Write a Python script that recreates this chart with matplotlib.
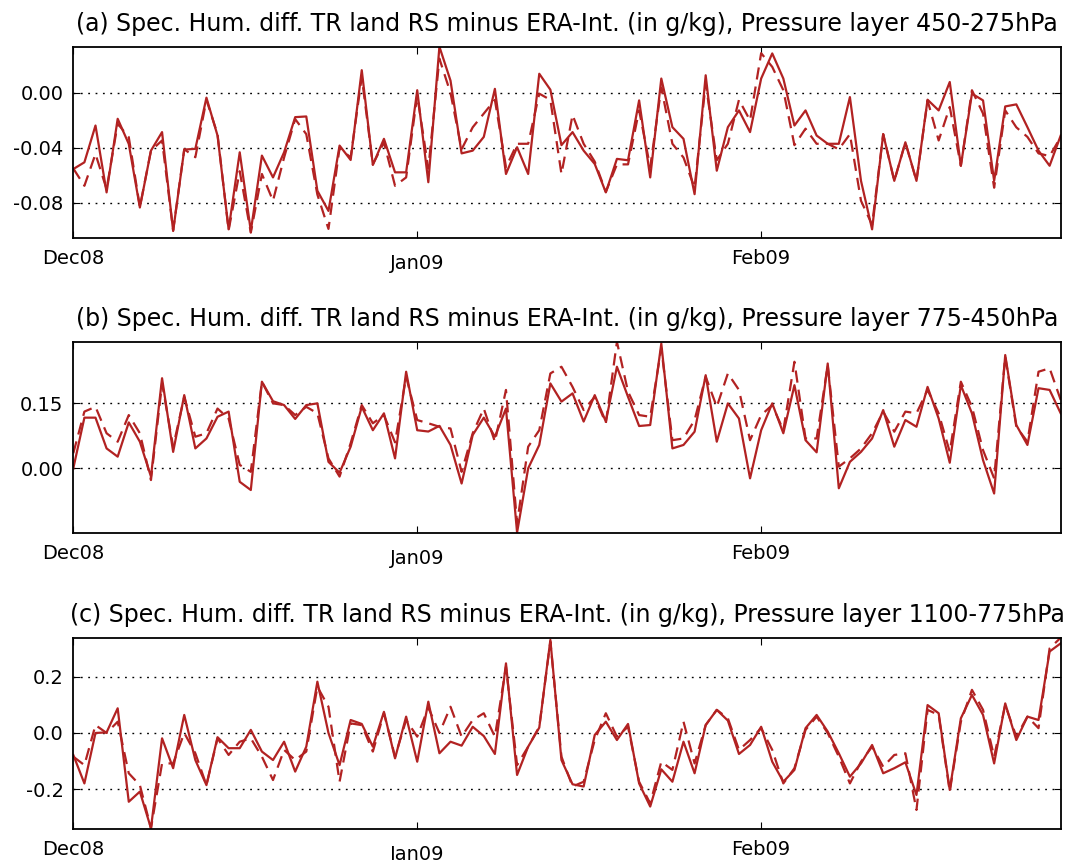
import numpy as np
import pandas as pd
import matplotlib
matplotlib.use("Agg")
import matplotlib.pyplot as plt
import matplotlib.dates as mdates
from matplotlib.ticker import FormatStrFormatter, FixedLocator

# Daily series, 1 Dec 2008 - 28 Feb 2009
dates = pd.date_range("2008-12-01", periods=90, freq="D")

# (a) 450-275 hPa
a_solid = [-0.0554, -0.0505, -0.0237, -0.0724, -0.0188, -0.0371, -0.0834, -0.0420, -0.0285, -0.1005,
           -0.0412, -0.0407, -0.0034, -0.0310, -0.0993, -0.0432, -0.1005, -0.0456, -0.0615, -0.0432,
           -0.0176, -0.0171, -0.0712, -0.0859, -0.0383, -0.0488, 0.0166, -0.0524, -0.0334, -0.0578,
           -0.0578, 0.0020, -0.0650, 0.0337, 0.0090, -0.0440, -0.0420, -0.0320, 0.0030, -0.0590,
           -0.0395, -0.0590, 0.0140, 0.0024, -0.0380, -0.0285, -0.0420, -0.0517, -0.0724, -0.0480,
           -0.0490, -0.0054, -0.0615, 0.0105, -0.0249, -0.0334, -0.0737, 0.0129, -0.0566, -0.0249,
           -0.0127, -0.0285, 0.0105, 0.0288, 0.0105, -0.0237, -0.0127, -0.0310, -0.0370, -0.0370,
           -0.0030, -0.0640, -0.0993, -0.0300, -0.0640, -0.0359, -0.0640, -0.0049, -0.0127, 0.0080,
           -0.0530, -0.0005, -0.0054, -0.0640, -0.0098, -0.0083, -0.0249, -0.0420, -0.0530, -0.0310]
a_dashed = [-0.0550, -0.0676, -0.0444, -0.0700, -0.0224, -0.0322, -0.0830, -0.0420, -0.0346, -0.1000,
            -0.0410, -0.0468, -0.0050, -0.0300, -0.1000, -0.0570, -0.1017, -0.0590, -0.0785, -0.0470,
            -0.0190, -0.0300, -0.0740, -0.0990, -0.0400, -0.0470, 0.0117, -0.0520, -0.0360, -0.0676,
            -0.0615, -0.0017, -0.0550, 0.0250, 0.0000, -0.0410, -0.0250, -0.0150, -0.0050, -0.0540,
            -0.0370, -0.0370, -0.0005, -0.0050, -0.0590, -0.0160, -0.0370, -0.0500, -0.0720, -0.0520,
            -0.0520, -0.0127, -0.0540, 0.0040, -0.0370, -0.0470, -0.0690, 0.0070, -0.0490, -0.0370,
            -0.0050, -0.0200, 0.0290, 0.0190, 0.0020, -0.0380, -0.0260, -0.0370, -0.0370, -0.0410,
            -0.0300, -0.0785, -0.0960, -0.0300, -0.0640, -0.0360, -0.0640, -0.0054, -0.0346, -0.0102,
            -0.0530, 0.0020, -0.0150, -0.0690, -0.0127, -0.0250, -0.0320, -0.0440, -0.0460, -0.0320]

# (b) 775-450 hPa
b_solid = [0.000, 0.117, 0.117, 0.046, 0.027, 0.106, 0.0615, -0.019, 0.208, 0.038,
           0.169, 0.046, 0.069, 0.119, 0.131, -0.031, -0.050, 0.200, 0.155, 0.146,
           0.114, 0.146, 0.150, 0.015, -0.010, 0.050, 0.142, 0.088, 0.127, 0.023,
           0.223, 0.088, 0.085, 0.098, 0.054, -0.035, 0.077, 0.117, 0.073, 0.138,
           -0.148, 0.000, 0.054, 0.196, 0.154, 0.173, 0.108, 0.169, 0.108, 0.2345,
           0.165, 0.0977, 0.100, 0.288, 0.046, 0.054, 0.0846, 0.215, 0.0615, 0.150,
           0.115, -0.023, 0.088, 0.150, 0.081, 0.192, 0.065, 0.037, 0.242, -0.046,
           0.015, 0.038, 0.069, 0.1346, 0.050, 0.1115, 0.096, 0.188, 0.115, 0.013,
           0.192, 0.127, 0.019, -0.058, 0.2615, 0.100, 0.054, 0.185, 0.181, 0.127]
b_dashed = [0.035, 0.131, 0.142, 0.081, 0.0615, 0.123, 0.081, -0.027, 0.196, 0.050,
            0.165, 0.073, 0.081, 0.138, 0.115, 0.008, -0.008, 0.200, 0.150, 0.146,
            0.123, 0.142, 0.127, 0.023, -0.019, 0.058, 0.146, 0.104, 0.123, 0.060,
            0.2115, 0.1115, 0.104, 0.096, 0.092, -0.008, 0.081, 0.138, 0.0615, 0.181,
            -0.127, 0.050, 0.088, 0.219, 0.2345, 0.188, 0.1346, 0.165, 0.104, 0.292,
            0.177, 0.123, 0.119, 0.277, 0.065, 0.069, 0.1115, 0.2115, 0.142, 0.219,
            0.181, 0.065, 0.123, 0.146, 0.088, 0.246, 0.069, 0.069, 0.238, 0.004,
            0.023, 0.046, 0.081, 0.131, 0.0846, 0.131, 0.127, 0.181, 0.127, 0.038,
            0.200, 0.142, 0.042, -0.023, 0.258, 0.096, 0.0615, 0.223, 0.231, 0.158]

# (c) 1100-775 hPa
c_solid = [-0.078, -0.179, 0.000, 0.002, 0.0876, -0.244, -0.208, -0.338, -0.019, -0.125,
           0.064, -0.096, -0.185, -0.015, -0.054, -0.054, 0.011, -0.066, -0.096, -0.031,
           -0.137, -0.0485, 0.182, 0.000, -0.114, 0.046, 0.032, -0.0485, 0.075, -0.090,
           0.058, -0.102, 0.111, -0.072, -0.031, -0.045, 0.022, -0.011, -0.0745, 0.247,
           -0.149, -0.0485, 0.019, 0.330, -0.096, -0.182, -0.190, -0.007, 0.040, -0.025,
           0.032, -0.179, -0.261, -0.129, -0.173, -0.031, -0.143, 0.028, 0.082, 0.044,
           -0.0745, -0.0426, 0.022, -0.102, -0.173, -0.131, 0.017, 0.064, 0.005, -0.072,
           -0.155, -0.108, -0.0426, -0.143, -0.125, -0.104, -0.220, 0.099, 0.070, -0.202,
           0.052, 0.135, 0.064, -0.108, 0.105, -0.025, 0.058, 0.046, 0.289, 0.318]
c_dashed = [-0.084, -0.114, 0.028, 0.000, 0.040, -0.143, -0.185, -0.338, -0.108, -0.108,
            0.000, -0.072, -0.185, -0.019, -0.078, -0.031, -0.019, -0.084, -0.167, -0.060,
            -0.096, -0.066, 0.164, 0.093, -0.173, 0.034, 0.028, -0.066, 0.070, -0.084,
            0.046, -0.013, 0.090, 0.000, 0.093, -0.013, 0.046, 0.070, -0.013, 0.235,
            -0.114, -0.0485, 0.022, 0.324, -0.084, -0.190, -0.173, -0.025, 0.070, -0.013,
            0.022, -0.173, -0.250, -0.102, -0.131, 0.040, -0.108, 0.028, 0.082, 0.052,
            -0.060, -0.025, 0.017, -0.060, -0.179, -0.125, 0.011, 0.058, 0.000, -0.084,
            -0.179, -0.102, -0.0485, -0.120, -0.078, -0.072, -0.273, 0.082, 0.064, -0.208,
            0.040, 0.153, 0.082, -0.084, 0.099, -0.013, 0.058, 0.017, 0.300, 0.338]

titles = [
    "(a) Spec. Hum. diff. TR land RS minus ERA-Int. (in g/kg), Pressure layer 450-275hPa",
    "(b) Spec. Hum. diff. TR land RS minus ERA-Int. (in g/kg), Pressure layer 775-450hPa",
    "(c) Spec. Hum. diff. TR land RS minus ERA-Int. (in g/kg), Pressure layer 1100-775hPa",
]
yticks = [[-0.08, -0.04, 0.00], [0.00, 0.15], [-0.2, 0.0, 0.2]]
yfmt = ["%.2f", "%.2f", "%.1f"]
ylims = [(-0.1054, 0.0337), (-0.1485, 0.2923), (-0.3396, 0.338)]
series = [(a_solid, a_dashed), (b_solid, b_dashed), (c_solid, c_dashed)]

plt.rcParams.update({
    "font.family": "DejaVu Sans",
    "font.size": 14,
    "xtick.direction": "in",
    "ytick.direction": "in",
    "xtick.top": True,
    "ytick.right": True,
    "xtick.major.size": 5,
    "ytick.major.size": 5,
    "xtick.major.pad": 8,
    "ytick.major.pad": 7,
    "axes.linewidth": 1.3,
})

color = "#b22222"
fig = plt.figure(figsize=(10.77, 8.6), dpi=100, facecolor="white")
left, width = 73.3 / 1077, 987.4 / 1077
tops = [46.7, 341.7, 637.7]
height_px = 191.0

for k in range(3):
    bottom = 1 - (tops[k] + height_px) / 860
    ax = fig.add_axes([left, bottom, width, height_px / 860])
    solid, dashed = series[k]
    ax.plot(dates, solid, color=color, lw=1.6, ls="-")
    ax.plot(dates, dashed, color=color, lw=1.6, ls=(0, (5.5, 3.2)))
    ax.set_xlim(dates[0], dates[-1])
    ax.set_ylim(*ylims[k])
    ax.yaxis.set_major_locator(FixedLocator(yticks[k]))
    ax.yaxis.set_major_formatter(FormatStrFormatter(yfmt[k]))
    ax.xaxis.set_major_locator(mdates.MonthLocator())
    ax.xaxis.set_major_formatter(mdates.DateFormatter("%b%y"))
    ax.yaxis.grid(True, linestyle=(0, (1.3, 4.0)), color="black", linewidth=1.0)
    ax.set_title(titles[k], fontsize=17, pad=11)
    # year-boundary label sits a little lower
    ticks = ax.xaxis.get_major_ticks()
    if len(ticks) > 1:
        ticks[1].set_pad(12)

fig.savefig("out.png", dpi=100, facecolor="white")
